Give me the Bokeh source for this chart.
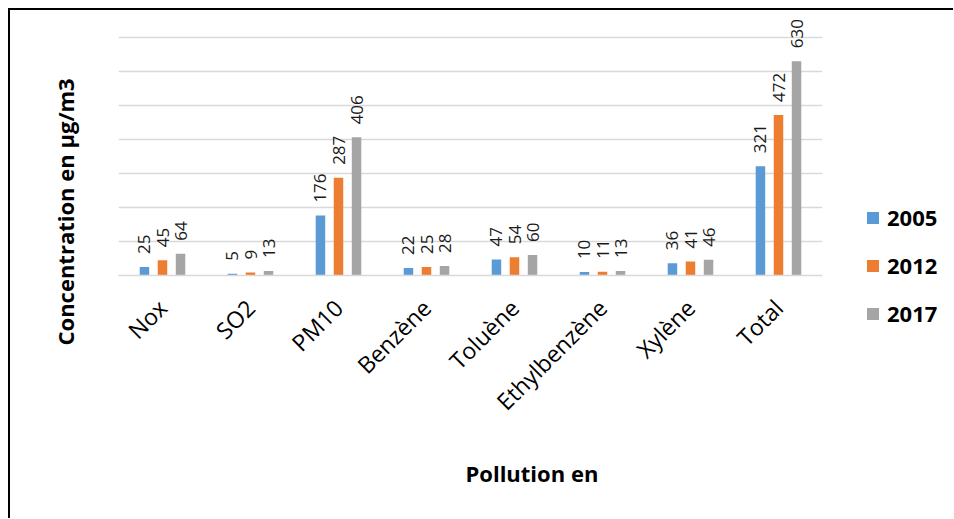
import math
from bokeh.plotting import figure
from bokeh.layouts import row, column
from bokeh.models import (FactorRange, Range1d, FixedTicker, Legend, LegendItem,
                          ColumnDataSource, Title, Spacer)
from bokeh.transform import dodge
from bokeh.core.properties import value
from bokeh.embed import file_html
from bokeh.resources import INLINE

# ---- data ----
categories = ["Nox", "SO2", "PM10", "Benzène", "Toluène", "Ethylbenzène", "Xylène", "Total"]
years = ["2005", "2012", "2017"]
v2005 = [25, 5, 176, 22, 47, 10, 36, 321]
v2012 = [45, 9, 287, 25, 54, 11, 41, 472]
v2017 = [64, 13, 406, 28, 60, 13, 46, 630]
grid_ticks = [0, 100, 200, 300, 400, 500, 600, 700]

series = [v2005, v2012, v2017]
colors = ["#5B9BD5", "#ED7D31", "#A5A5A5"]
offsets = [-0.205, 0.0, 0.205]

W, H = 943, 508          # total drawing size (inside the border)
WM = 852                 # width of the main chart part
FL, FR, FT, FB = 108, 812, 3, 265   # frame edges in canvas pixels
p = figure(width=WM, height=H, output_backend="svg", toolbar_location=None,
           x_range=FactorRange(factors=categories, range_padding=0),
           y_range=Range1d(0, 770),
           min_border_left=FL, min_border_right=WM - FR, min_border_top=FT,
           min_border_bottom=H - FB)
p.outline_line_color = None
p.background_fill_color = "white"
p.border_fill_color = "white"

# axes
p.yaxis.visible = False
p.ygrid.ticker = FixedTicker(ticks=grid_ticks)
p.ygrid.grid_line_color = "#D9D9D9"
p.ygrid.grid_line_width = 1.5
p.xgrid.grid_line_color = None

p.xaxis.axis_line_color = "#D9D9D9"
p.xaxis.axis_line_width = 1.5
p.xaxis.major_tick_line_color = None
p.xaxis.minor_tick_line_color = None
p.xaxis.major_label_orientation = math.pi / 4
p.xaxis.major_label_text_font = "Open Sans"
p.xaxis.major_label_text_font_size = "23px"
p.xaxis.major_label_text_color = "black"
p.xaxis.major_label_standoff = 22

ytitle = Title(text="Concentration en µg/m3", align="left", offset=-70,
               vertical_align="middle", standoff=75,
               text_font="Open Sans", text_font_style="bold",
               text_font_size="22px", text_color="black")
p.add_layout(ytitle, "left")

xtitle = Title(text="Pollution en", align="left", offset=347,
               vertical_align="top", standoff=52,
               text_font="Open Sans", text_font_style="bold",
               text_font_size="22px", text_color="black")
p.add_layout(xtitle, "below")

# legend part (its own small figure, placed to the right of the chart)
LTOP, LH = 184, 142
pl = figure(width=W - WM, height=LH, output_backend="svg", toolbar_location=None,
            x_range=Range1d(0, 1), y_range=Range1d(0, 1),
            min_border=0, min_border_left=0, min_border_right=0,
            min_border_top=0, min_border_bottom=0)
pl.axis.visible = False
pl.grid.visible = False
pl.outline_line_color = None
pl.background_fill_color = "white"
pl.border_fill_color = "white"

items = []
for yr, vals, col, off in zip(years, series, colors, offsets):
    src = ColumnDataSource(dict(cat=categories, v=vals, lbl=[str(v) for v in vals]))
    p.vbar(x=dodge("cat", off, range=p.x_range), top="v", width=0.108,
           source=src, fill_color=col, line_color=None)
    p.text(x=dodge("cat", off, range=p.x_range), y="v", text="lbl", source=src,
           angle=math.pi / 2, text_align="left", text_baseline="middle",
           y_offset=-13, text_font=value("Open Sans"), text_font_size="17px",
           text_color="#1a1a1a")
    # legend key: same series, lies outside the small legend figure's ranges
    key = pl.vbar(x="v", top="v", width=0.1, source=src,
                  fill_color=col, line_color=None)
    items.append(LegendItem(label=yr, renderers=[key]))

legend = Legend(items=items, location=(3, 8), orientation="vertical",
                glyph_width=15, glyph_height=15, label_height=26, spacing=18,
                label_standoff=7, padding=0, margin=0,
                label_text_font="Open Sans", label_text_font_style="bold",
                label_text_font_size="22px", label_text_color="black",
                border_line_color=None, background_fill_alpha=0)
pl.add_layout(legend, "center")

layout = row(p, column(Spacer(width=W - WM, height=LTOP), pl))
layout.styles = {"margin-left": "8px", "margin-top": "8px",
                 "border-top": "2px solid #000", "border-left": "2px solid #000"}

open("out.html", "w").write(file_html(layout, INLINE))
